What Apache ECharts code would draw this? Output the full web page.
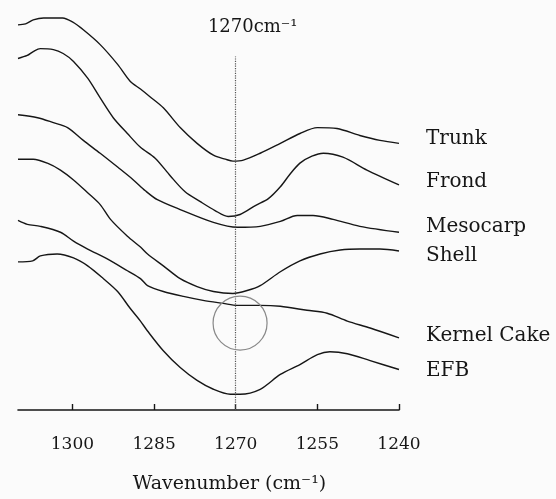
<!DOCTYPE html>
<html>
<head>
<meta charset="utf-8">
<script src="https://cdn.jsdelivr.net/npm/echarts@6/dist/echarts.min.js"></script>
<style>
html,body{margin:0;padding:0;background:#fbfbfb;}
#c{width:556px;height:499px;}
</style>
</head>
<body>
<div id="c"></div>
<script>
// Tick labels (wavenumber, cm-1)
const tickValues = [1300, 1285, 1270, 1255, 1240];
const markerWavenumber = 1270;
const seriesNames = ['Trunk', 'Frond', 'Mesocarp', 'Shell', 'Kernel Cake', 'EFB'];

// [wavenumber, relative absorbance (offset spectra)]
const trunk = [[1310,3.90],[1308.6,3.91],[1307.2,3.95],[1305.3,3.97],[1301.8,3.97],[1300,3.93],[1298,3.85],[1294.9,3.70],[1291.7,3.50],[1289.4,3.33],[1287.5,3.25],[1285.7,3.17],[1283.3,3.06],[1280.2,2.86],[1277.1,2.70],[1274.1,2.58],[1271.9,2.54],[1270.5,2.52],[1268.6,2.53],[1265.5,2.60],[1261.8,2.70],[1258.2,2.80],[1255,2.86],[1251.4,2.85],[1247.2,2.78],[1243.5,2.73],[1240,2.70]];
const frond = [[1310,3.56],[1308.3,3.59],[1307.2,3.63],[1305.9,3.66],[1303.5,3.65],[1301.7,3.61],[1299.8,3.53],[1297.2,3.36],[1294.9,3.16],[1292.5,2.96],[1289.9,2.80],[1287.5,2.66],[1284.8,2.55],[1282,2.37],[1279.3,2.21],[1276.5,2.11],[1273.8,2.02],[1271.4,1.96],[1269.2,1.98],[1266.4,2.07],[1264,2.14],[1261.8,2.26],[1260,2.39],[1258.2,2.50],[1256,2.57],[1253.9,2.60],[1250.3,2.56],[1245.9,2.43],[1240,2.28]];
const mesocarp = [[1310,2.99],[1306.4,2.96],[1303.5,2.91],[1300.9,2.86],[1298,2.73],[1294.9,2.60],[1291.7,2.46],[1288.8,2.33],[1286.6,2.22],[1284.4,2.13],[1280.2,2.03],[1274.1,1.90],[1269.7,1.85],[1265.5,1.86],[1261.8,1.91],[1258.7,1.97],[1255.8,1.97],[1252.1,1.93],[1247.2,1.86],[1240,1.80]];
const shell = [[1310,2.54],[1307.2,2.54],[1304.6,2.50],[1302.2,2.43],[1299.8,2.33],[1297.2,2.20],[1294.9,2.08],[1293,1.93],[1289.9,1.76],[1287.5,1.65],[1286.2,1.58],[1283.3,1.46],[1280.2,1.33],[1277.1,1.25],[1274.1,1.20],[1270.5,1.18],[1267.9,1.21],[1265.5,1.26],[1261.8,1.40],[1258.2,1.51],[1254.5,1.58],[1250.8,1.62],[1247.2,1.63],[1243.5,1.63],[1240,1.61]];
const kernelCake = [[1310,1.92],[1308.3,1.88],[1305.9,1.86],[1302.2,1.80],[1299.8,1.71],[1297.2,1.63],[1293.6,1.53],[1289.9,1.41],[1287.5,1.33],[1286.2,1.26],[1283.3,1.20],[1279.6,1.15],[1276,1.11],[1272.3,1.08],[1269.7,1.06],[1265.5,1.06],[1261.8,1.05],[1256.9,1.01],[1253.2,0.98],[1249.5,0.90],[1245.3,0.83],[1240,0.73]];
const efb = [[1310,1.50],[1307.3,1.51],[1305.9,1.56],[1302.8,1.58],[1299.8,1.54],[1297.2,1.46],[1294.3,1.33],[1291.7,1.20],[1289.4,1.03],[1287.5,0.90],[1286.2,0.80],[1283.3,0.60],[1280.2,0.43],[1277.1,0.30],[1274.1,0.21],[1271,0.16],[1269.2,0.16],[1265.5,0.21],[1261.8,0.36],[1258.2,0.46],[1255,0.56],[1252.7,0.59],[1249.5,0.57],[1245.3,0.50],[1240,0.41]];
const circleMark = [1269.2, 0.88];
const markerLineTop = 3.58;

const allData = [trunk, frond, mesocarp, shell, kernelCake, efb];
const labelOffsets = [[0,-5],[0,-3],[0,-5],[0,5],[0,-2],[0,1]];
const FONT = 'DejaVu Serif';
const INK = '#161616';

const chart = echarts.init(document.getElementById('c'), null, {renderer:'canvas'});
const series = allData.map((d, i) => ({
  name: seriesNames[i],
  type: 'line',
  data: d,
  showSymbol: false,
  smooth: 0.3,
  clip: false,
  lineStyle: {color: INK, width: 1.4},
  endLabel: {
    show: true,
    formatter: '{a}',
    align: 'left',
    distance: -27,
    offset: labelOffsets[i],
    color: INK,
    fontFamily: FONT,
    fontSize: 20
  },
  silent: true
}));
series[0].markLine = {
  silent: true,
  symbol: 'none',
  lineStyle: {color: '#555', type: 'dotted', width: 1.2},
  label: {
    show: true,
    position: 'end',
    distance: 20,
    offset: [17, 0],
    formatter: markerWavenumber + 'cm⁻¹',
    color: INK,
    fontFamily: FONT,
    fontSize: 18
  },
  data: [[{coord: [markerWavenumber, 0]}, {coord: [markerWavenumber, markerLineTop]}]]
};
series[5].markPoint = {
  silent: true,
  symbol: 'circle',
  symbolSize: 54,
  itemStyle: {color: 'rgba(0,0,0,0)', borderColor: '#888', borderWidth: 1.2},
  label: {show: false},
  data: [{coord: circleMark}]
};

chart.setOption({
  animation: false,
  backgroundColor: '#fbfbfb',
  grid: {left: 18, right: 157, top: 15, bottom: 84},
  xAxis: {
    type: 'value',
    min: 1240,
    max: 1310,
    inverse: true,
    name: 'Wavenumber (cm⁻¹)',
    nameLocation: 'middle',
    nameGap: 65,
    nameTextStyle: {color: INK, fontFamily: FONT, fontSize: 19, padding: [0, 0, 0, 42]},
    axisLine: {lineStyle: {color: INK, width: 1.6}},
    axisTick: {show: true, inside: true, length: 6, lineStyle: {color: INK, width: 1.4}, customValues: tickValues},
    axisLabel: {color: INK, fontFamily: FONT, fontSize: 17, margin: 26, customValues: tickValues, formatter: v => String(v)},
    splitLine: {show: false}
  },
  yAxis: {type: 'value', min: 0, max: 4, show: false},
  series: series
});
</script>
</body>
</html>
